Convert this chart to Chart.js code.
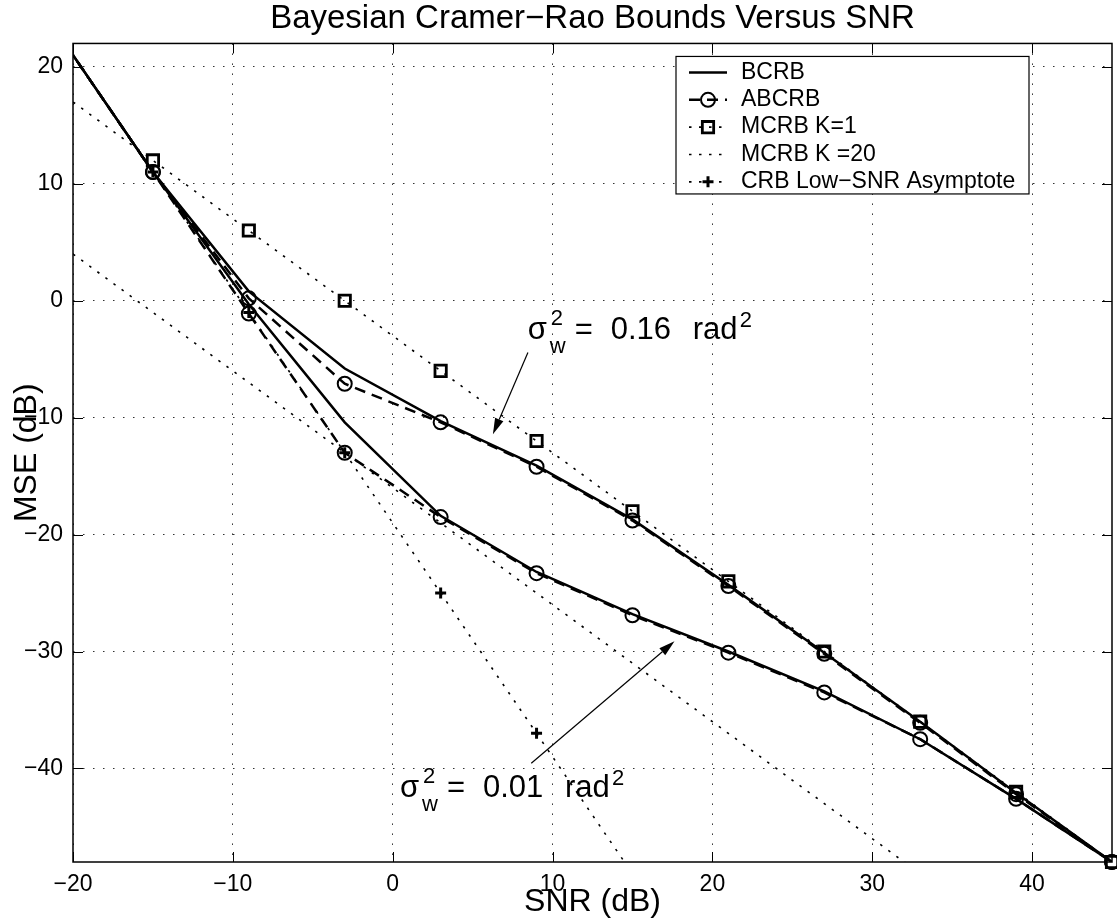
<!DOCTYPE html>
<html>
<head>
<meta charset="utf-8">
<script src="https://cdn.jsdelivr.net/npm/chart.js@4.4.1/dist/chart.umd.min.js"></script>
<style>
  body { margin: 0; background: #fff; }
  #wrap { width: 1117px; height: 922px; }
</style>
</head>
<body>
<div id="wrap"><canvas id="chart" width="1117" height="922"></canvas></div>
<script>
const FONT = '"Liberation Sans", Arial, Helvetica, sans-serif';

// SNR (dB) sample points, step 6 dB (first one sits just left of the axis)
const snr = [-21, -15, -9, -3, 3, 9, 15, 21, 27, 33, 39, 45];

// sigma_w^2 = 0.16 rad^2
const bcrbHigh  = [23, 11, 0.8, -5.8, -10.3, -14.1, -18.7, -24.3, -30.1, -36, -42.1, -48];
const abcrbHigh = [23, 11, 0.2, -7.1, -10.4, -14.2, -18.8, -24.4, -30.2, -36.1, -42.2, -48];
// sigma_w^2 = 0.01 rad^2
const bcrbLow   = [23, 11, -0.3, -10.4, -18.4, -23.2, -26.8, -30, -33.4, -37.5, -42.6, -48];
const abcrbLow  = [23, 11, -1.1, -13, -18.5, -23.3, -26.9, -30.1, -33.5, -37.5, -42.6, -48];
// modified CRBs and low-SNR asymptote
const mcrbK1    = [18, 12, 6, 0, -6, -12, -18, -24, -30, -36, -42, -48];
const mcrbK20   = [5, -1, -7, -13, -19, -25, -31, -37, -43, -49, -55, -61];
const crbLowSnr = [23, 11, -1, -13, -25, -37, -49, -61, -73, -85, -97, -109];

const xTicks = [-20, -10, 0, 10, 20, 30, 40];
const yTicks = [-40, -30, -20, -10, 0, 10, 20];

const legendLabels = ['BCRB', 'ABCRB', 'MCRB K=1', 'MCRB K =20', 'CRB Low\u2212SNR Asymptote'];
const legendSets = [0, 2, 4, 5, 6];   // dataset used for each legend row

// sigma annotations (data units): text anchor, arrow tail, arrow tip
const notes = [
    { value: '0.16', at: [8.45, -3.25], from: [8.46, -4.42], to: [6.27, -11.41] },
    { value: '0.01', at: [0.45, -42.4], from: [8.67, -39.56], to: [17.63, -29.13] },
];

const pts = (arr) => snr.map((x, i) => ({ x: x, y: arr[i] }));
const minus = (v) => String(v).replace('-', '\u2212');

const solid = { borderColor: '#000', borderWidth: 2.5, pointRadius: 0, showLine: true, fill: false };
const dashed = {
    borderColor: '#000', borderWidth: 2.5, borderDash: [11, 7], showLine: true, fill: false,
    pointStyle: 'circle', pointRadius: 7, pointBorderWidth: 2,
    pointBorderColor: '#000', pointBackgroundColor: 'rgba(0,0,0,0)',
    clip: { left: 0, top: 0, right: 9, bottom: 9 },
};
const dotted = { borderColor: '#000', borderWidth: 1.6, borderDash: [2.5, 7.5], showLine: true, fill: false, pointRadius: 0 };

function drawMarker(ctx, style, x, y, r, bw) {
    ctx.save();
    ctx.setLineDash([]);
    ctx.lineWidth = bw;
    ctx.strokeStyle = '#000';
    ctx.beginPath();
    if (style === 'circle') {
        ctx.arc(x, y, r, 0, Math.PI * 2);
    } else if (style === 'rect') {
        const h = r * Math.SQRT1_2;
        ctx.rect(x - h, y - h, 2 * h, 2 * h);
    } else if (style === 'cross') {
        ctx.moveTo(x - r, y); ctx.lineTo(x + r, y);
        ctx.moveTo(x, y - r); ctx.lineTo(x, y + r);
    }
    ctx.stroke();
    ctx.restore();
}

const matlabFrame = {
    id: 'matlabFrame',
    afterDatasetsDraw(chart) {
        const { ctx, chartArea: a, scales: { x, y } } = chart;
        ctx.save();

        // inward ticks on all four sides
        ctx.strokeStyle = '#000';
        ctx.lineWidth = 1;
        ctx.beginPath();
        xTicks.forEach((v) => {
            const p = Math.round(x.getPixelForValue(v)) + 0.5;
            ctx.moveTo(p, a.bottom); ctx.lineTo(p, a.bottom - 10);
            ctx.moveTo(p, a.top); ctx.lineTo(p, a.top + 10);
        });
        yTicks.forEach((v) => {
            const p = Math.round(y.getPixelForValue(v)) + 0.5;
            ctx.moveTo(a.left, p); ctx.lineTo(a.left + 10, p);
            ctx.moveTo(a.right, p); ctx.lineTo(a.right - 10, p);
        });
        ctx.stroke();
        ctx.lineWidth = 1.5;
        ctx.strokeRect(a.left, a.top, a.right - a.left, a.bottom - a.top);

        // sigma annotations with arrows
        ctx.fillStyle = '#000';
        ctx.textAlign = 'left';
        ctx.textBaseline = 'alphabetic';
        notes.forEach((n) => {
            const px = x.getPixelForValue(n.at[0]);
            const py = y.getPixelForValue(n.at[1]);
            ctx.font = '31px ' + FONT;
            ctx.fillText('\u03c3', px, py);
            ctx.fillText('=', px + 47, py);
            ctx.fillText(n.value, px + 83, py);
            ctx.fillText('rad', px + 165, py);
            ctx.font = '22px ' + FONT;
            ctx.fillText('w', px + 22, py + 14);
            ctx.fillText('2', px + 23, py - 14);
            ctx.fillText('2', px + 212, py - 12);

            const x0 = x.getPixelForValue(n.from[0]), y0 = y.getPixelForValue(n.from[1]);
            const x1 = x.getPixelForValue(n.to[0]), y1 = y.getPixelForValue(n.to[1]);
            const ang = Math.atan2(y1 - y0, x1 - x0);
            const len = 16, half = 4.5;
            const bx = x1 - len * Math.cos(ang), by = y1 - len * Math.sin(ang);
            ctx.lineWidth = 1.2;
            ctx.beginPath();
            ctx.moveTo(x0, y0); ctx.lineTo(bx, by);
            ctx.stroke();
            ctx.beginPath();
            ctx.moveTo(x1, y1);
            ctx.lineTo(bx + half * Math.sin(ang), by - half * Math.cos(ang));
            ctx.lineTo(bx - half * Math.sin(ang), by + half * Math.cos(ang));
            ctx.closePath();
            ctx.fill();
        });

        // legend box
        const L = a.right - 436, T = a.top + 13, W = 353, H = 137.5;
        ctx.fillStyle = '#fff';
        ctx.fillRect(L, T, W, H);
        ctx.lineWidth = 1.2;
        ctx.strokeStyle = '#000';
        ctx.strokeRect(L, T, W, H);
        legendLabels.forEach((label, i) => {
            const ds = chart.data.datasets[legendSets[i]];
            const ry = T + 16 + i * 27.35;
            ctx.save();
            ctx.lineWidth = ds.borderWidth;
            ctx.setLineDash(ds.borderDash || []);
            ctx.beginPath();
            ctx.moveTo(L + 13, ry); ctx.lineTo(L + 51, ry);
            ctx.stroke();
            ctx.restore();
            if (ds.pointRadius > 0) drawMarker(ctx, ds.pointStyle, L + 32, ry, ds.pointRadius, ds.pointBorderWidth);
            ctx.fillStyle = '#000';
            ctx.font = '23px ' + FONT;
            ctx.textBaseline = 'middle';
            ctx.fillText(label, L + 65, ry);
        });
        ctx.restore();
    },
};

Chart.defaults.font.family = FONT;
Chart.defaults.color = '#000';

new Chart(document.getElementById('chart'), {
    type: 'scatter',
    data: {
        datasets: [
            { label: 'BCRB', data: pts(bcrbHigh), ...solid },
            { label: 'BCRB', data: pts(bcrbLow), ...solid },
            { label: 'ABCRB', data: pts(abcrbHigh), ...dashed },
            { label: 'ABCRB', data: pts(abcrbLow), ...dashed },
            {
                label: 'MCRB K=1', data: pts(mcrbK1), ...dotted,
                pointStyle: 'rect', pointRadius: 8, pointBorderWidth: 2.8,
                pointBorderColor: '#000', pointBackgroundColor: 'rgba(0,0,0,0)',
                clip: { left: 0, top: 0, right: 9, bottom: 9 },
            },
            { label: 'MCRB K =20', data: pts(mcrbK20), ...dotted },
            {
                label: 'CRB Low-SNR Asymptote', data: pts(crbLowSnr), ...dotted,
                pointStyle: 'cross', pointRadius: 5.5, pointBorderWidth: 3, pointBorderColor: '#000',
            },
        ],
    },
    options: {
        responsive: false,
        animation: false,
        events: [],
        layout: { autoPadding: false, padding: { left: 0, right: 5, top: 0, bottom: 0 } },
        plugins: {
            legend: { display: false },
            tooltip: { enabled: false },
            title: {
                display: true,
                text: 'Bayesian Cramer\u2212Rao Bounds Versus SNR',
                fullSize: false,
                color: '#000',
                font: { size: 33, weight: 'normal', lineHeight: 1.05 },
                padding: { top: 2, bottom: 6.8 },
            },
        },
        scales: {
            x: {
                type: 'linear',
                min: -20,
                max: 45,
                afterBuildTicks: (s) => { s.ticks = xTicks.map((v) => ({ value: v })); },
                afterFit: (s) => { s.height = 60; },
                ticks: { padding: 9, font: { size: 23 }, callback: minus, maxRotation: 0 },
                grid: { color: '#333', lineWidth: 1, drawTicks: false },
                border: { display: false, dash: [1.5, 8.5] },
                title: { display: true, text: 'SNR (dB)', font: { size: 32 }, padding: { top: 0, bottom: 1 } },
            },
            y: {
                type: 'linear',
                min: -48,
                max: 22,
                afterBuildTicks: (s) => { s.ticks = yTicks.map((v) => ({ value: v })); },
                afterFit: (s) => { s.width = 73; },
                ticks: { padding: 10, font: { size: 23 }, callback: minus },
                grid: { color: '#333', lineWidth: 1, drawTicks: false },
                border: { display: false, dash: [1.5, 8.5] },
                title: { display: true, text: 'MSE (dB)', font: { size: 32 }, padding: { top: 7.5, bottom: 0 } },
            },
        },
    },
    plugins: [matlabFrame],
});
</script>
</body>
</html>
